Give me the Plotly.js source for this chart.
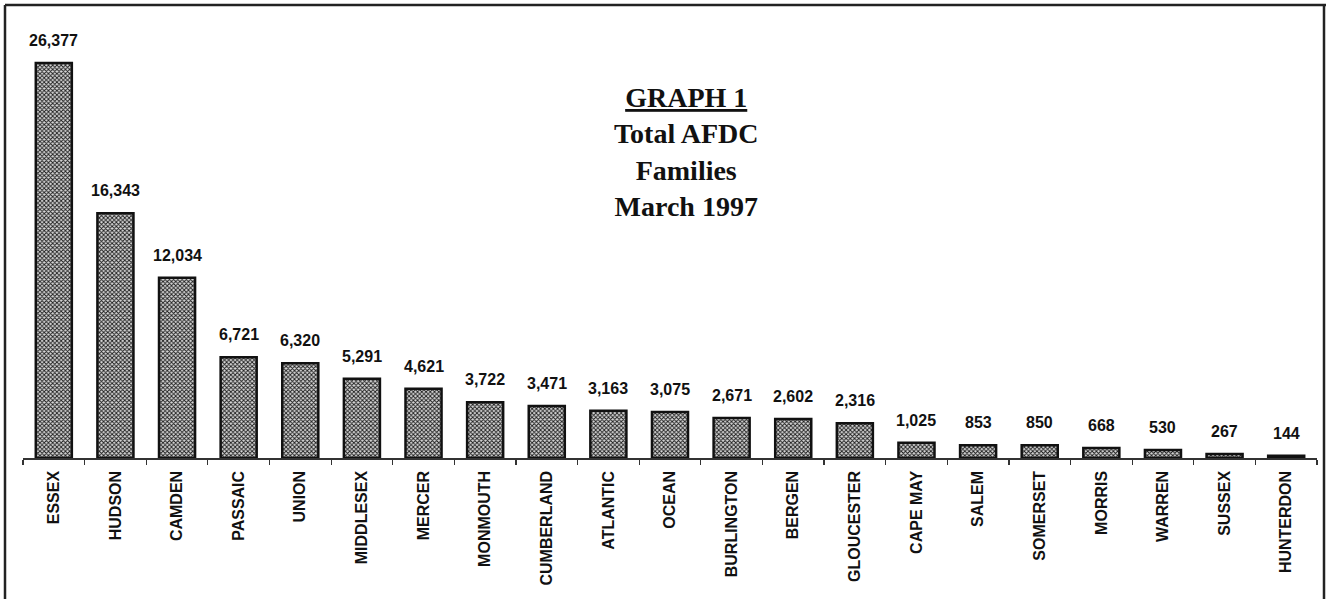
<!DOCTYPE html>
<html>
<head>
<meta charset="utf-8">
<script src="https://cdn.plot.ly/plotly-3.0.1.min.js"></script>
<style>
html,body{margin:0;padding:0;background:#fff;}
#chart{width:1326px;height:599px;}
</style>
</head>
<body>
<div id="chart"></div>
<script>
const counties = ["ESSEX","HUDSON","CAMDEN","PASSAIC","UNION","MIDDLESEX","MERCER","MONMOUTH","CUMBERLAND","ATLANTIC","OCEAN","BURLINGTON","BERGEN","GLOUCESTER","CAPE MAY","SALEM","SOMERSET","MORRIS","WARREN","SUSSEX","HUNTERDON"];
const families = [26377,16343,12034,6721,6320,5291,4621,3722,3471,3163,3075,2671,2602,2316,1025,853,850,668,530,267,144];
const titleLines = ["GRAPH 1","Total AFDC","Families","March 1997"];

const sansBold = "Liberation Sans, Arial, sans-serif";

const trace = {
  type: "bar",
  x: counties,
  y: families,
  marker: {
    color: "#cfcfcf",
    line: {color: "#111111", width: 2.5},
    pattern: {shape: "x", fgcolor: "#1a1a1a", bgcolor: "#d8d8d8", size: 3, solidity: 0.5}
  },
  hoverinfo: "none"
};

const valueLabels = counties.map((c, i) => ({
  x: c, y: families[i], xref: "x", yref: "y",
  text: "<b>" + families[i].toLocaleString("en-US") + "</b>",
  showarrow: false, yanchor: "bottom", yshift: 12,
  font: {family: sansBold, size: 16, color: "#111"}
}));

const titleAnn = {
  xref: "paper", yref: "paper", x: (686 - 23) / 1294, y: 1 - (80 - 10) / 448,
  xanchor: "center", yanchor: "top", showarrow: false, align: "center",
  text: "<b><span style=\"text-decoration:underline\">" + titleLines[0] + "</span><br>" +
        titleLines.slice(1).join("<br>") + "</b>",
  font: {family: "Liberation Serif, Times New Roman, serif", size: 28, color: "#111"}
};

const n = counties.length;
const boundaries = counties.map((c, i) => i - 0.5).concat([n - 0.5]);

const frameLine = {color: "#222", width: 2.5};
const shapes = [
  {type: "line", xref: "paper", yref: "paper", xsizemode: "pixel", ysizemode: "pixel",
   xanchor: 0, yanchor: 0, x0: -18, x1: -18, y0: -145, y1: 453, line: frameLine},
  {type: "line", xref: "paper", yref: "paper", xsizemode: "pixel", ysizemode: "pixel",
   xanchor: 0, yanchor: 0, x0: -18, x1: 1319, y0: 453, y1: 453, line: frameLine},
  {type: "line", xref: "paper", yref: "paper", xsizemode: "pixel", ysizemode: "pixel",
   xanchor: 1, yanchor: 0, x0: 7, x1: 7, y0: 453, y1: -145, line: frameLine}
];

const layout = {
  width: 1326, height: 599,
  margin: {l: 23, r: 9, t: 10, b: 141},
  paper_bgcolor: "#fff", plot_bgcolor: "#fff",
  showlegend: false,
  bargap: 0.415,
  xaxis: {
    type: "category", categoryorder: "array", categoryarray: counties,
    showline: true, linecolor: "#333", linewidth: 1.5,
    ticks: "outside", ticklen: 5, tickwidth: 1.2, tickcolor: "#333",
    tickson: "boundaries", tickangle: -90, ticklabelstandoff: 5,
    tickfont: {family: sansBold, size: 16, color: "#111", weight: "bold"},
    showgrid: false, zeroline: false, fixedrange: true
  },
  xaxis2: {
    overlaying: "x", anchor: "y", side: "bottom", type: "linear",
    range: [-0.5, n - 0.5], tickmode: "array", tickvals: boundaries,
    ticks: "inside", ticklen: 4, tickwidth: 1.2, tickcolor: "#333",
    showticklabels: false, showgrid: false, zeroline: false, showline: false
  },
  yaxis: {
    range: [0, 29917], visible: false, showgrid: false, zeroline: false, fixedrange: true
  },
  annotations: valueLabels.concat([titleAnn]),
  shapes: shapes
};

Plotly.newPlot("chart", [trace], layout, {displayModeBar: false, staticPlot: true});
</script>
</body>
</html>
